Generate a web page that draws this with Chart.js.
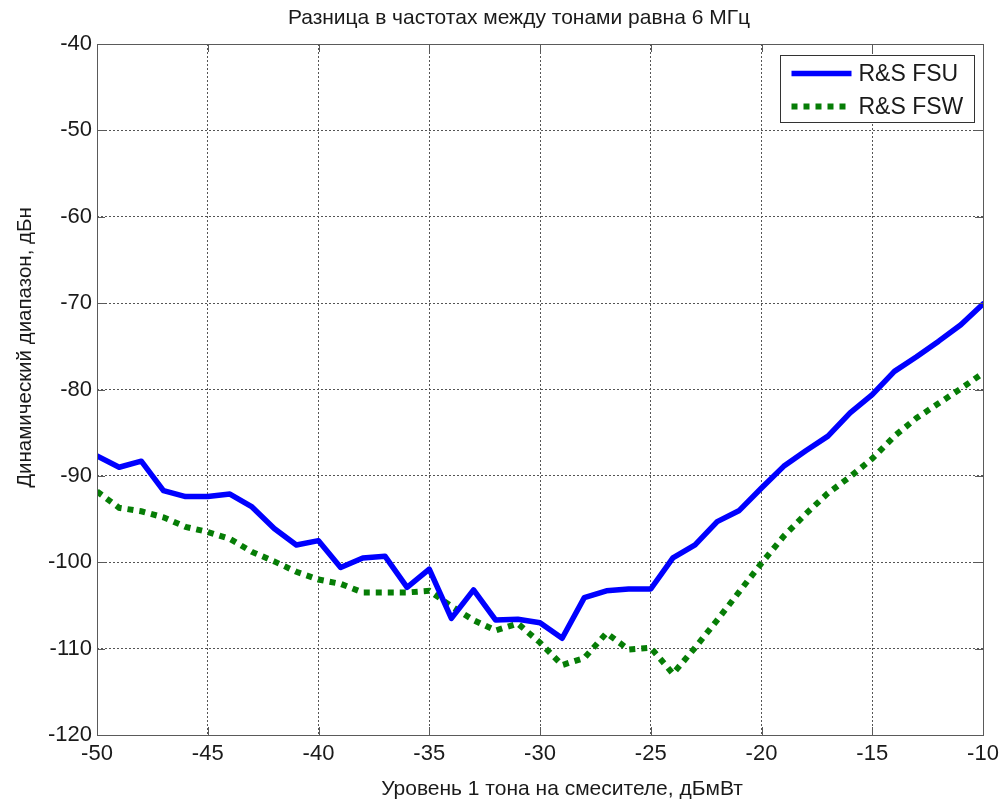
<!DOCTYPE html>
<html>
<head>
<meta charset="utf-8">
<script src="https://cdn.jsdelivr.net/npm/chart.js@4/dist/chart.umd.min.js"></script>
<style>
  html, body { margin: 0; padding: 0; background: #fff; }
  #wrap { width: 1005px; height: 809px; }
</style>
</head>
<body>
<div id="wrap"><canvas id="c" width="1005" height="809"></canvas></div>
<script>
// Tone level at the mixer input, dBm
const toneLevels = [-50,-49,-48,-47,-46,-45,-44,-43,-42,-41,-40,-39,-38,-37,-36,-35,-34,-33,-32,-31,-30,
                    -29,-28,-27,-26,-25,-24,-23,-22,-21,-20,-19,-18,-17,-16,-15,-14,-13,-12,-11,-10];

// Dynamic range, dBc
const fsuRange = [-87.7,-89.0,-88.3,-91.7,-92.4,-92.4,-92.1,-93.6,-96.1,-98.0,-97.5,-100.6,-99.5,-99.3,-102.9,-100.8,-106.5,-103.2,-106.7,-106.6,-107.0,
                  -108.8,-104.1,-103.3,-103.1,-103.1,-99.5,-98.0,-95.3,-94.0,-91.4,-88.9,-87.1,-85.4,-82.7,-80.6,-77.9,-76.2,-74.4,-72.5,-70.1];
const fswRange = [-91.8,-93.7,-94.1,-94.8,-95.9,-96.5,-97.3,-98.8,-99.9,-101.1,-102.0,-102.5,-103.5,-103.5,-103.5,-103.3,-105.1,-106.7,-107.9,-107.1,-109.3,
                  -111.9,-111.1,-108.2,-110.1,-109.9,-112.9,-109.9,-106.7,-103.4,-100.1,-97.0,-94.4,-92.0,-90.1,-88.0,-85.4,-83.3,-81.6,-79.9,-78.1];

const seriesNames = ['R&S FSU', 'R&S FSW'];
const chartTitle = 'Разница в частотах между тонами равна 6 МГц';
const xTitle = 'Уровень 1 тона на смесителе, дБмВт';
const yTitle = 'Динамический диапазон, дБн';

const FONT = '"Liberation Sans", Arial, sans-serif';
const TEXT = '#1a1a1a';
const FRAME = '#5a5a5a';

const toPoints = vals => toneLevels.map((x, i) => ({ x, y: vals[i] }));

// Frame, inward ticks, titles and the boxed legend in the upper right corner
const decorations = {
  id: 'decorations',
  afterDraw(chart) {
    const { ctx, chartArea: a, scales } = chart;
    ctx.save();

    // inward tick marks on all four sides
    ctx.strokeStyle = FRAME;
    ctx.lineWidth = 1;
    const tl = 8;
    scales.x.ticks.forEach(t => {
      const px = Math.round(scales.x.getPixelForValue(t.value)) + 0.5;
      ctx.beginPath();
      ctx.moveTo(px, a.bottom); ctx.lineTo(px, a.bottom - tl);
      ctx.moveTo(px, a.top); ctx.lineTo(px, a.top + tl);
      ctx.stroke();
    });
    scales.y.ticks.forEach(t => {
      const py = Math.round(scales.y.getPixelForValue(t.value)) + 0.5;
      ctx.beginPath();
      ctx.moveTo(a.left, py); ctx.lineTo(a.left + tl, py);
      ctx.moveTo(a.right, py); ctx.lineTo(a.right - tl, py);
      ctx.stroke();
    });

    // box around the plot
    ctx.strokeRect(Math.round(a.left) + 0.5, Math.round(a.top) + 0.5,
                   Math.round(a.right - a.left), Math.round(a.bottom - a.top));

    // titles
    const cx = (a.left + a.right) / 2;
    const cy = (a.top + a.bottom) / 2;
    ctx.fillStyle = TEXT;
    ctx.textAlign = 'center';
    ctx.textBaseline = 'middle';
    ctx.font = '21px ' + FONT;
    ctx.fillText(chartTitle, cx - 21, a.top - 26);
    ctx.fillText(xTitle, cx + 22, a.bottom + 54);
    ctx.save();
    ctx.font = '20.5px ' + FONT;
    ctx.translate(25, cy - 42);
    ctx.rotate(-Math.PI / 2);
    ctx.fillText(yTitle, 0, 0);
    ctx.restore();

    // legend
    const bw = 194, bh = 67;
    const bx = Math.round(a.right - 9 - bw) + 0.5;
    const by = Math.round(a.top + 11) + 0.5;
    ctx.fillStyle = '#fff';
    ctx.fillRect(bx, by, bw, bh);
    ctx.strokeStyle = '#333';
    ctx.lineWidth = 1;
    ctx.strokeRect(bx, by, bw, bh);
    chart.data.datasets.forEach((ds, i) => {
      const ly = by + 18 + i * 33;
      ctx.save();
      ctx.strokeStyle = ds.borderColor;
      ctx.lineWidth = ds.borderWidth;
      ctx.lineCap = 'butt';
      ctx.setLineDash(ds.borderDash || []);
      ctx.beginPath();
      ctx.moveTo(bx + 11, ly);
      ctx.lineTo(bx + 71, ly);
      ctx.stroke();
      ctx.restore();
      ctx.fillStyle = TEXT;
      ctx.font = '23px ' + FONT;
      ctx.textAlign = 'left';
      ctx.textBaseline = 'middle';
      ctx.fillText(ds.label, bx + 78, ly + 1);
    });
    ctx.restore();
  }
};

new Chart(document.getElementById('c'), {
  type: 'line',
  data: {
    datasets: [
      {
        label: seriesNames[0],
        data: toPoints(fsuRange),
        borderColor: '#0000ff',
        borderWidth: 5.5,
        borderJoinStyle: 'round',
        borderCapStyle: 'round',
        pointRadius: 0,
        tension: 0,
        fill: false
      },
      {
        label: seriesNames[1],
        data: toPoints(fswRange),
        borderColor: '#067d06',
        borderWidth: 6,
        borderDash: [6, 6],
        borderCapStyle: 'butt',
        pointRadius: 0,
        tension: 0,
        fill: false
      }
    ]
  },
  options: {
    responsive: false,
    animation: false,
    devicePixelRatio: 1,
    layout: { padding: { left: 0, top: 44, right: 22, bottom: 0 } },
    plugins: {
      legend: { display: false },
      title: { display: false },
      tooltip: { enabled: false }
    },
    scales: {
      x: {
        type: 'linear',
        min: -50, max: -10,
        afterFit: s => { s.height = 74; },
        ticks: { stepSize: 5, color: TEXT, font: { family: FONT, size: 22 }, padding: 6, maxRotation: 0 },
        grid: { color: '#555', lineWidth: 1, drawTicks: false },
        border: { display: false, dash: [2, 2] }
      },
      y: {
        type: 'linear',
        min: -120, max: -40,
        afterFit: s => { s.width = 97; },
        ticks: { stepSize: 10, color: TEXT, font: { family: FONT, size: 22 }, padding: 5 },
        grid: { color: '#555', lineWidth: 1, drawTicks: false },
        border: { display: false, dash: [2, 2] }
      }
    }
  },
  plugins: [decorations]
});
</script>
</body>
</html>
